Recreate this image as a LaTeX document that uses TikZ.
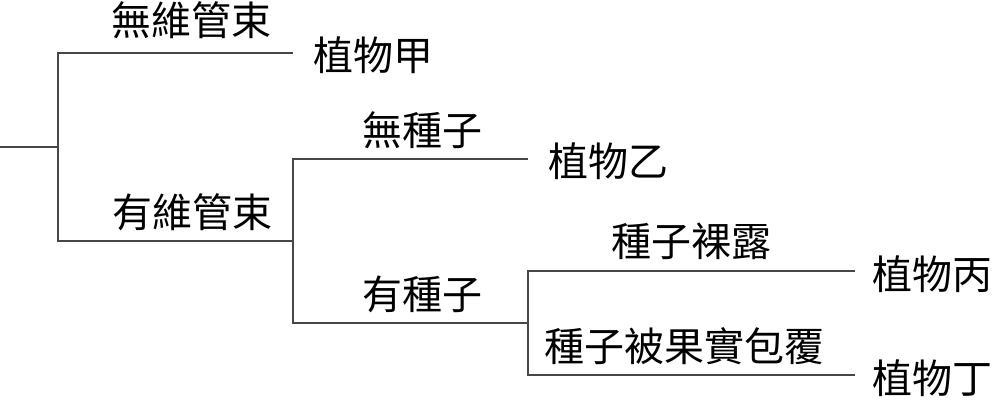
\documentclass[tikz,border=0pt]{standalone}
\usepackage{fontspec}
\newfontfamily\cjk{Noto Sans CJK TC}
\usetikzlibrary{positioning}
\tikzset{
	branch/.style={line width=1.4pt, color=black!72},
	lab/.style={font=\cjk\fontsize{40}{48}\selectfont, inner sep=0pt},
	leaf/.style={lab, anchor=west},
}

\begin{document}
\begin{tikzpicture}[x=1pt, y=1pt]
			%%%%% START %%%%%
			\useasboundingbox (0, 0) rectangle (994, 400);
			
			\coordinate (root) at (0, 253);
			\coordinate (j1) at (58, 253);
			\coordinate (j2) at (293, 159);
			\coordinate (j3) at (528, 77);
			\coordinate (endA) at (293, 347);
			\coordinate (endB) at (528, 241);
			\coordinate (endC) at (855, 129);
			\coordinate (endD) at (855, 25);
			
			\draw[branch] (root) -- (j1);
			\draw[branch] (endA) -| (j1) |- (j2);
			\draw[branch] (endB) -| (j2) |- (j3);
			\draw[branch] (endC) -| (j3) |- (endD);
			
			\node[lab] (noVasc) at (191, 380) {無維管束};
			\node[lab] (vasc) at (192, 188) {有維管束};
			\node[lab] (noSeed) at (422, 270) {無種子};
			\node[lab] (seed) at (422, 106) {有種子};
			\node[lab] (naked) at (691, 159) {種子裸露};
			\node[lab] (covered) at (684, 54) {種子被果實包覆};
			
			\node[leaf] (plantA) at ([xshift=20pt, yshift=-2pt]endA) {植物甲};
			\node[leaf] (plantB) at ([xshift=20pt, yshift=-2pt]endB) {植物乙};
			\node[leaf] (plantC) at ([xshift=17pt, yshift=-3pt]endC) {植物丙};
			\node[leaf] (plantD) at ([xshift=17pt, yshift=-3pt]endD) {植物丁};
			
			%%%%% END %%%%%
\end{tikzpicture}
\end{document}
